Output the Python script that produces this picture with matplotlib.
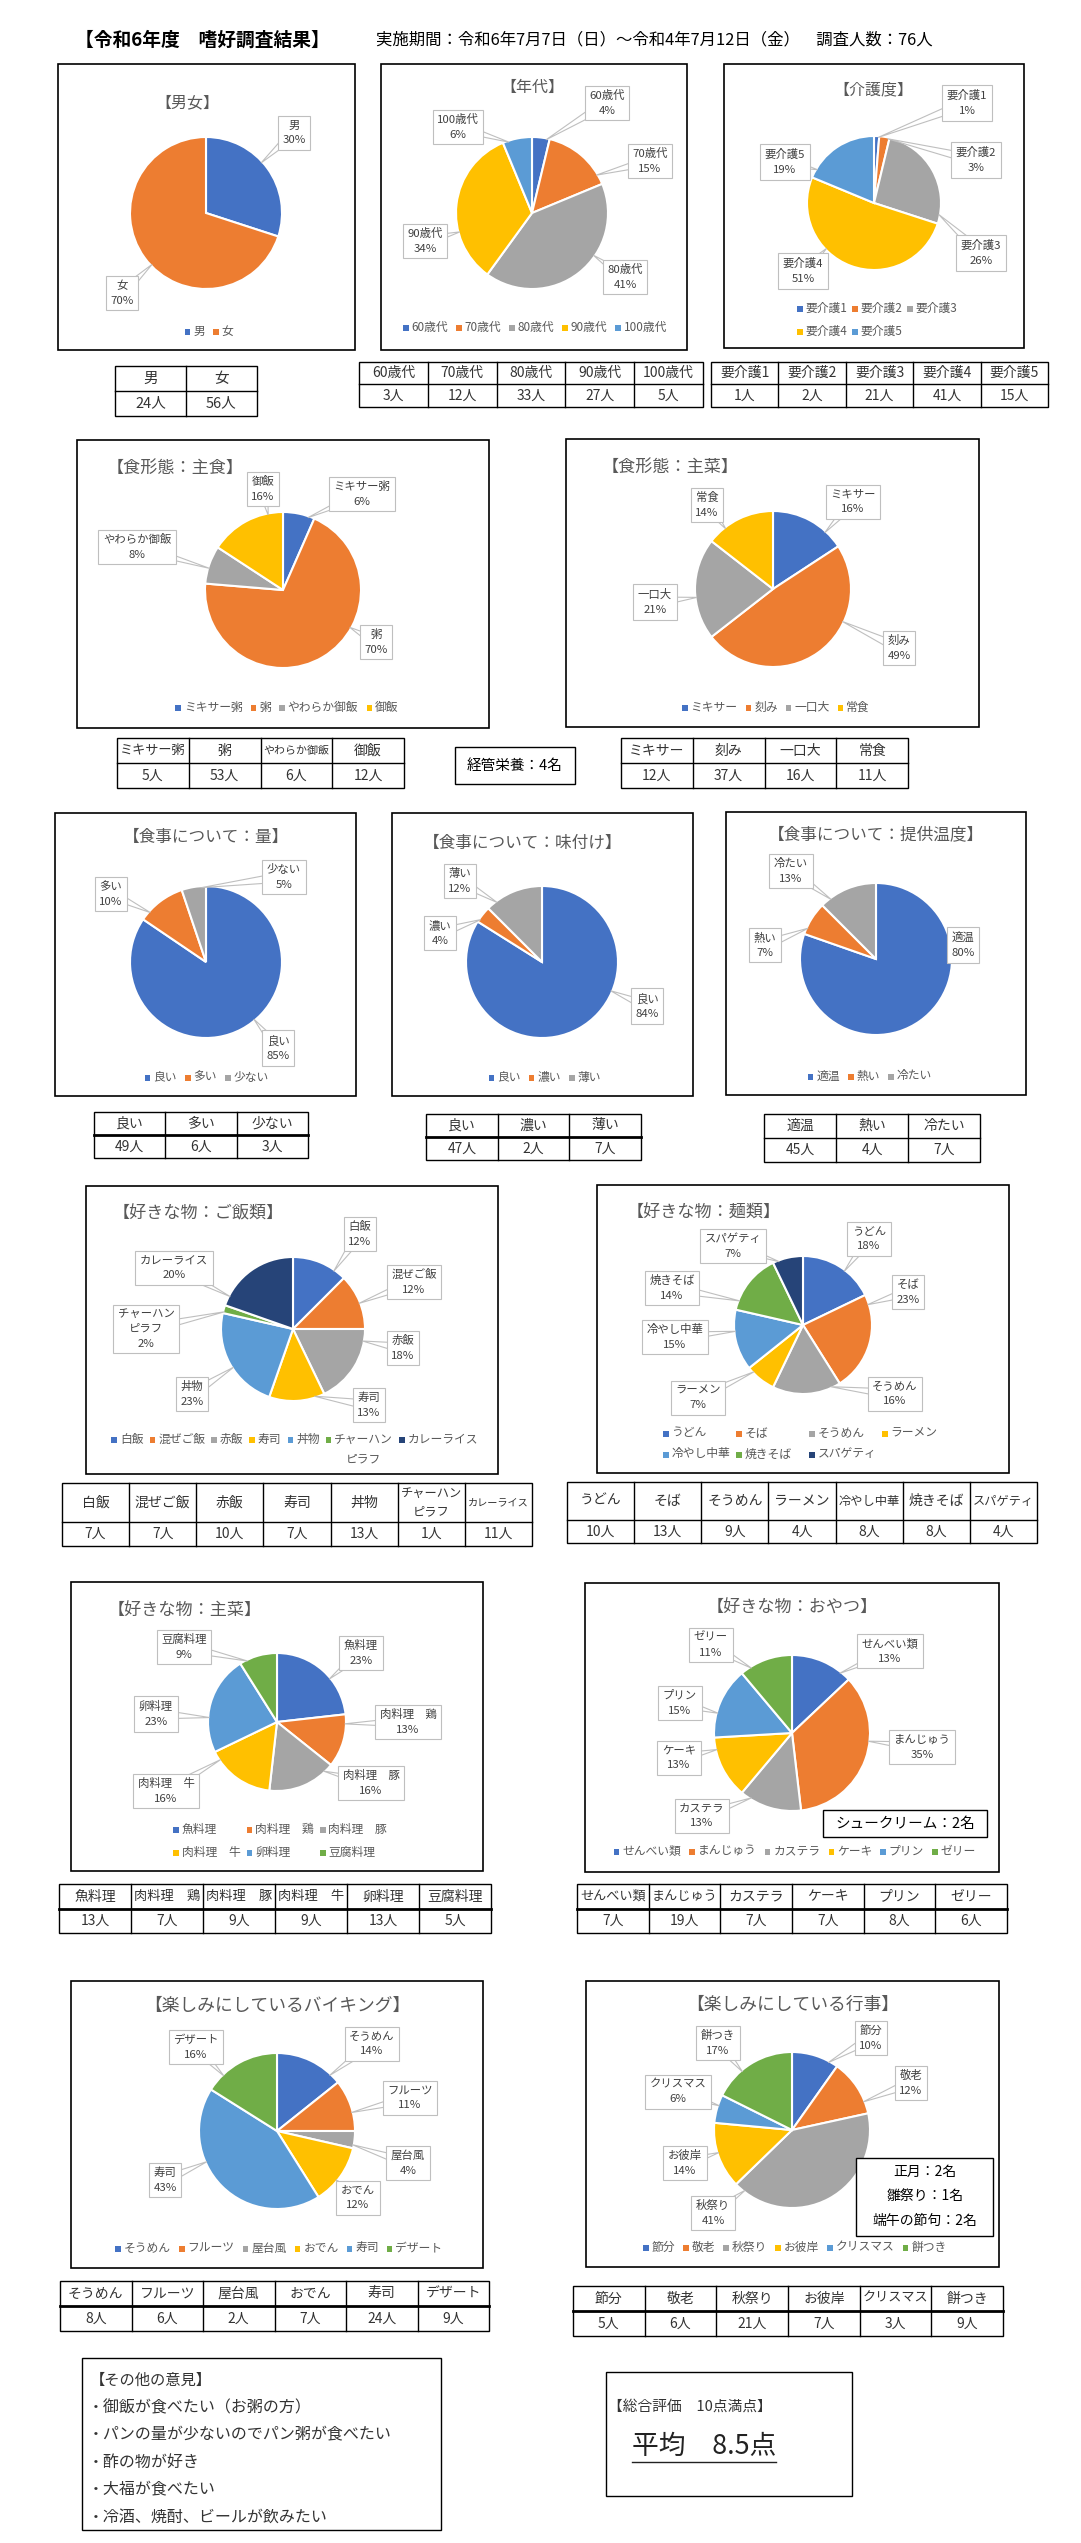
import matplotlib
matplotlib.use('Agg')
import matplotlib.pyplot as plt
from matplotlib.patches import Rectangle, Polygon
import numpy as np

plt.rcParams['font.family'] = ['Noto Sans CJK JP', 'DejaVu Sans']

W, H = 1081, 2543
BLUE, ORANGE, GRAY, GOLD, LBLUE, GREEN, NAVY = '#4472C4', '#ED7D31', '#A5A5A5', '#FFC000', '#5B9BD5', '#70AD47', '#264478'
PALETTE = [BLUE, ORANGE, GRAY, GOLD, LBLUE, GREEN, NAVY]
TITLE_C = '#595959'
LABEL_C = '#404040'

# ---- data ----
sex_names = ['男', '女']
sex_counts = [24, 56]
sex_pct = [30, 70]

age_names = ['60歳代', '70歳代', '80歳代', '90歳代', '100歳代']
age_counts = [3, 12, 33, 27, 5]
age_pct = [4, 15, 41, 34, 6]

care_names = ['要介護1', '要介護2', '要介護3', '要介護4', '要介護5']
care_counts = [1, 2, 21, 41, 15]
care_pct = [1, 3, 26, 51, 19]

staple_names = ['ミキサー粥', '粥', 'やわらか御飯', '御飯']
staple_counts = [5, 53, 6, 12]
staple_pct = [6, 70, 8, 16]

main_form_names = ['ミキサー', '刻み', '一口大', '常食']
main_form_counts = [12, 37, 16, 11]
main_form_pct = [16, 49, 21, 14]

amount_names = ['良い', '多い', '少ない']
amount_counts = [49, 6, 3]
amount_pct = [85, 10, 5]

taste_names = ['良い', '濃い', '薄い']
taste_counts = [47, 2, 7]
taste_pct = [84, 4, 12]

temp_names = ['適温', '熱い', '冷たい']
temp_counts = [45, 4, 7]
temp_pct = [80, 7, 13]

rice_names = ['白飯', '混ぜご飯', '赤飯', '寿司', '丼物', 'チャーハン\nピラフ', 'カレーライス']
rice_counts = [7, 7, 10, 7, 13, 1, 11]
rice_pct = [12, 12, 18, 13, 23, 2, 20]

noodle_names = ['うどん', 'そば', 'そうめん', 'ラーメン', '冷やし中華', '焼きそば', 'スパゲティ']
noodle_counts = [10, 13, 9, 4, 8, 8, 4]
noodle_pct = [18, 23, 16, 7, 15, 14, 7]

dish_names = ['魚料理', '肉料理　鶏', '肉料理　豚', '肉料理　牛', '卵料理', '豆腐料理']
dish_counts = [13, 7, 9, 9, 13, 5]
dish_pct = [23, 13, 16, 16, 23, 9]

snack_names = ['せんべい類', 'まんじゅう', 'カステラ', 'ケーキ', 'プリン', 'ゼリー']
snack_counts = [7, 19, 7, 7, 8, 6]
snack_pct = [13, 35, 13, 13, 15, 11]

buffet_names = ['そうめん', 'フルーツ', '屋台風', 'おでん', '寿司', 'デザート']
buffet_counts = [8, 6, 2, 7, 24, 9]
buffet_pct = [14, 11, 4, 12, 43, 16]

event_names = ['節分', '敬老', '秋祭り', 'お彼岸', 'クリスマス', '餅つき']
event_counts = [5, 6, 21, 7, 3, 9]
event_pct = [10, 12, 41, 14, 6, 17]

other_opinions = ['・御飯が食べたい（お粥の方）',
                  '・パンの量が少ないのでパン粥が食べたい',
                  '・酢の物が好き',
                  '・大福が食べたい',
                  '・冷酒、焼酎、ビールが飲みたい']
event_extra = ['正月：2名', '雛祭り：1名', '端午の節句：2名']

fig = plt.figure(figsize=(W / 100, H / 100), dpi=100)
fig.patch.set_facecolor('white')
ov = fig.add_axes([0, 0, 1, 1], zorder=5)
ov.set_xlim(0, W)
ov.set_ylim(H, 0)
ov.axis('off')
ov.patch.set_alpha(0)

PX = 100 / 72  # pixels per point


def em_len(s):
    return max(sum(0.55 if ord(c) < 128 else 1.0 for c in line) for line in s.split('\n'))


def frame(x0, y0, x1, y1, lw=1.2):
    ov.add_patch(Rectangle((x0, y0), x1 - x0, y1 - y0, fill=False, ec='black', lw=lw, zorder=2))


def pie_chart(names, counts, pct, cx, cy, r, label_pos):
    colors = PALETTE[:len(counts)]
    pad = 3
    ax = fig.add_axes([(cx - r - pad) / W, 1 - (cy + r + pad) / H, 2 * (r + pad) / W, 2 * (r + pad) / H], zorder=1)
    ax.pie(counts, colors=colors, startangle=90, counterclock=False,
           wedgeprops=dict(edgecolor='white', linewidth=1.5))
    lim = (r + pad) / r
    ax.set_xlim(-lim, lim)
    ax.set_ylim(-lim, lim)
    total = sum(counts)
    cum = 0
    for i, v in enumerate(counts):
        a0 = 90 - 360 * cum / total
        a1 = 90 - 360 * (cum + v) / total
        cum += v
        lx, ly = label_pos[i]
        # point the callout at the nearest part of the wedge rim
        mid = (a0 + a1) / 2
        phi = np.degrees(np.arctan2(cy - ly, lx - cx))
        while phi - mid > 180:
            phi -= 360
        while phi - mid < -180:
            phi += 360
        m = min(0.2 * (a0 - a1), 8)
        phi = min(max(phi, a1 + m), a0 - m)
        th = np.radians(phi)
        tip = np.array([cx + r * 0.98 * np.cos(th), cy - r * 0.98 * np.sin(th)])
        d = tip - np.array([lx, ly])
        n = np.array([-d[1], d[0]]) / (np.hypot(*d) + 1e-9)
        b1 = np.array([lx, ly]) + n * 5
        b2 = np.array([lx, ly]) - n * 5
        ov.add_patch(Polygon([b1, tip, b2], closed=True, fill=False, ec='#BFBFBF', lw=0.8, zorder=3))
        ov.text(lx, ly, f'{names[i]}\n{pct[i]}%', ha='center', va='center', fontsize=8.2,
                color=LABEL_C, linespacing=1.6, multialignment='center', zorder=4,
                bbox=dict(boxstyle='square,pad=0.4', fc='white', ec='#BFBFBF', lw=0.8))


def legend(names, x, y, ncol=None, colw=None, fs=8.5, rowh=22, gap=8):
    px = fs * PX
    sq = 5.5
    if colw:
        pos = [(x + (i % ncol) * colw, y + (i // ncol) * rowh) for i in range(len(names))]
    else:
        widths = [sq + 3 + em_len(nm.split('\n')[0]) * px for nm in names]
        start = x - (sum(widths) + gap * (len(names) - 1)) / 2
        pos = []
        for w in widths:
            pos.append((start, y))
            start += w + gap
    for i, (nm, (ex, ey)) in enumerate(zip(names, pos)):
        ov.add_patch(Rectangle((ex, ey - sq / 2 + 1), sq, sq, color=PALETTE[i], lw=0, zorder=4))
        lines = nm.split('\n')
        ov.text(ex + sq + 3, ey, lines[0], ha='left', va='center', fontsize=fs, color=TITLE_C, zorder=4)
        tw = em_len(lines[0]) * px
        for k, extra in enumerate(lines[1:]):
            ov.text(ex + sq + 3 + tw / 2, ey + 20 * (k + 1), extra, ha='center', va='center',
                    fontsize=fs, color=TITLE_C, zorder=4)


def table(x0, x1, y0, ym, y1, headers, values, fs=10, thick=False):
    n = len(headers)
    cw = (x1 - x0) / n
    ov.add_patch(Rectangle((x0, y0), x1 - x0, y1 - y0, fill=False, ec='black', lw=1.0, zorder=2))
    ov.plot([x0, x1], [ym, ym], color='black', lw=2.0 if thick else 1.0, zorder=2)
    for i in range(1, n):
        ov.plot([x0 + i * cw, x0 + i * cw], [y0, y1], color='black', lw=1.0, zorder=2)
    for i, (h, v) in enumerate(zip(headers, values)):
        xc = x0 + (i + 0.5) * cw
        hf = min(fs, (cw - 6) / (em_len(h) * PX))
        ov.text(xc, (y0 + ym) / 2, h, ha='center', va='center', fontsize=hf, color='#333333',
                linespacing=1.5, zorder=4)
        ov.text(xc, (ym + y1) / 2, f'{v}人', ha='center', va='center', fontsize=fs, color='#333333', zorder=4)


def title(x, y, s, fs=12.3, ha='center'):
    ov.text(x, y, s, ha=ha, va='center', fontsize=fs, color=TITLE_C)


# ---- header ----
ov.text(75, 40, '【令和6年度　嗜好調査結果】', ha='left', va='center', fontsize=13.5, fontweight='bold')
ov.text(376, 40, '実施期間：令和6年7月7日（日）～令和4年7月12日（金）　調査人数：76人',
        ha='left', va='center', fontsize=11.8)

# ---- row 1 ----
frame(58, 64, 355, 350)
title(187, 103, '【男女】', 11.5)
pie_chart(sex_names, sex_counts, sex_pct, 206, 213, 76, [(294, 133), (122, 293)])
legend(sex_names, 209, 331)
table(115, 257, 366, 391, 416, sex_names, sex_counts, fs=10.5)

frame(381, 64, 687, 350)
title(532, 87, '【年代】', 11.5)
pie_chart(age_names, age_counts, age_pct, 532, 213, 76,
          [(607, 103), (650, 161), (625, 277), (425, 241), (458, 127)])
legend(age_names, 535, 327)
table(359, 703, 362, 384, 407, age_names, age_counts)

frame(724, 64, 1024, 348)
title(873, 90, '【介護度】', 11.5)
pie_chart(care_names, care_counts, care_pct, 874, 203, 67,
          [(967, 103), (976, 160), (981, 253), (803, 271), (785, 162)])
legend(care_names, 797, 308, ncol=3, colw=55, rowh=23)
table(711, 1048, 362, 384, 407, care_names, care_counts)

# ---- row 2 ----
frame(77, 440, 489, 728)
title(107, 468, '【食形態：主食】', ha='left')
pie_chart(staple_names, staple_counts, staple_pct, 283, 590, 78,
          [(362, 494), (376, 642), (137, 547), (263, 489)])
legend(staple_names, 287, 707)
table(117, 404, 738, 763, 788, staple_names, staple_counts)

ov.add_patch(Rectangle((455, 747), 120, 37, fill=False, ec='black', lw=1.0))
ov.text(515, 765.5, '経管栄養：4名', ha='center', va='center', fontsize=10.5, color='black')

frame(566, 439, 979, 727)
title(602, 467, '【食形態：主菜】', ha='left')
pie_chart(main_form_names, main_form_counts, main_form_pct, 773, 589, 78,
          [(853, 502), (899, 648), (655, 602), (707, 505)])
legend(main_form_names, 776, 707)
table(621, 908, 738, 763, 788, main_form_names, main_form_counts)

# ---- row 3 ----
frame(55, 813, 356, 1096)
title(206, 837, '【食事について：量】', 12)
pie_chart(amount_names, amount_counts, amount_pct, 206, 962, 76, [(278, 1048), (111, 894), (284, 877)])
legend(amount_names, 207, 1077)
table(94, 308, 1112, 1135, 1158, amount_names, amount_counts, thick=True)

frame(392, 813, 693, 1096)
title(523, 843, '【食事について：味付け】', 12)
pie_chart(taste_names, taste_counts, taste_pct, 542, 962, 76, [(647, 1006), (440, 933), (460, 881)])
legend(taste_names, 545, 1077)
table(426, 641, 1114, 1137, 1160, taste_names, taste_counts, thick=True)

frame(726, 812, 1026, 1095)
title(876, 835, '【食事について：提供温度】', 12)
pie_chart(temp_names, temp_counts, temp_pct, 876, 959, 76, [(963, 945), (765, 945), (791, 871)])
legend(temp_names, 870, 1076)
table(764, 980, 1114, 1138, 1162, temp_names, temp_counts)

# ---- row 4 ----
frame(86, 1186, 498, 1474)
title(113, 1213, '【好きな物：ご飯類】', ha='left')
pie_chart(rice_names, rice_counts, rice_pct, 293, 1329, 72,
          [(360, 1234), (414, 1282), (403, 1348), (369, 1405), (192, 1394), (146, 1329), (174, 1268)])
legend(rice_names, 295, 1439, gap=6)
table(62, 532, 1483, 1522, 1546, rice_names, rice_counts)

frame(597, 1185, 1009, 1473)
title(627, 1213, '【好きな物：麺類】', ha='left')
pie_chart(noodle_names, noodle_counts, noodle_pct, 803, 1325, 69,
          [(869, 1239), (908, 1292), (895, 1394), (698, 1398), (675, 1337), (672, 1288), (733, 1246)])
legend(noodle_names, 663, 1433, ncol=4, colw=73, rowh=21)
table(567, 1037, 1482, 1520, 1543, noodle_names, noodle_counts)

# ---- row 5 ----
frame(71, 1582, 483, 1871)
title(108, 1610, '【好きな物：主菜】', ha='left')
pie_chart(dish_names, dish_counts, dish_pct, 277, 1722, 69,
          [(361, 1653), (408, 1722), (371, 1783), (166, 1791), (156, 1714), (184, 1647)])
legend(dish_names, 173, 1829, ncol=3, colw=73.5, rowh=23)
table(59, 491, 1884, 1909, 1933, dish_names, dish_counts, thick=True)

frame(585, 1583, 999, 1872)
title(792, 1608, '【好きな物：おやつ】')
pie_chart(snack_names, snack_counts, snack_pct, 792, 1733, 78,
          [(890, 1651), (922, 1747), (702, 1816), (679, 1758), (680, 1703), (711, 1645)])
legend(snack_names, 795, 1851)
table(577, 1007, 1884, 1909, 1933, snack_names, snack_counts, thick=True)
ov.add_patch(Rectangle((823, 1810), 164, 27, fc='white', ec='black', lw=1.0, zorder=4))
ov.text(905, 1823.5, 'シュークリーム：2名', ha='center', va='center', fontsize=10.5, color='black', zorder=5)

# ---- row 6 ----
frame(71, 1981, 483, 2268)
title(277, 2006, '【楽しみにしているバイキング】', 12.8)
pie_chart(buffet_names, buffet_counts, buffet_pct, 277, 2131, 78,
          [(372, 2044), (410, 2098), (408, 2163), (358, 2198), (165, 2180), (196, 2047)])
legend(buffet_names, 279, 2248)
table(60, 489, 2281, 2306, 2331, buffet_names, buffet_counts, thick=True)

frame(586, 1981, 999, 2267)
title(793, 2005, '【楽しみにしている行事】', 12.8)
pie_chart(event_names, event_counts, event_pct, 792, 2130, 78,
          [(871, 2038), (911, 2083), (713, 2213), (685, 2163), (678, 2092), (718, 2043)])
legend(event_names, 795, 2247)
table(573, 1003, 2286, 2311, 2336, event_names, event_counts, thick=True)
ov.add_patch(Rectangle((856, 2158), 137, 78, fc='white', ec='black', lw=1.0, zorder=4))
for i, s in enumerate(event_extra):
    ov.text(925, 2172 + i * 24.5, s, ha='center', va='center', fontsize=10, color='black', zorder=5)

# ---- bottom ----
ov.add_patch(Rectangle((82, 2358), 359, 172, fill=False, ec='black', lw=1.0))
ov.text(90, 2380, '【その他の意見】', ha='left', va='center', fontsize=11, color='#333333')
for i, s in enumerate(other_opinions):
    ov.text(88, 2408 + i * 27.3, s, ha='left', va='center', fontsize=11.5, color='#333333')

ov.add_patch(Rectangle((606, 2372), 246, 124, fill=False, ec='black', lw=1.0))
ov.text(608, 2407, '【総合評価　10点満点】', ha='left', va='center', fontsize=10.6, color='#333333')
ov.text(632, 2446, '平均　8.5点', ha='left', va='center', fontsize=19.3, color='#222222')
ov.plot([632, 776], [2462, 2462], color='#222222', lw=1.0)

fig.savefig('out.png', dpi=100, facecolor='white')
